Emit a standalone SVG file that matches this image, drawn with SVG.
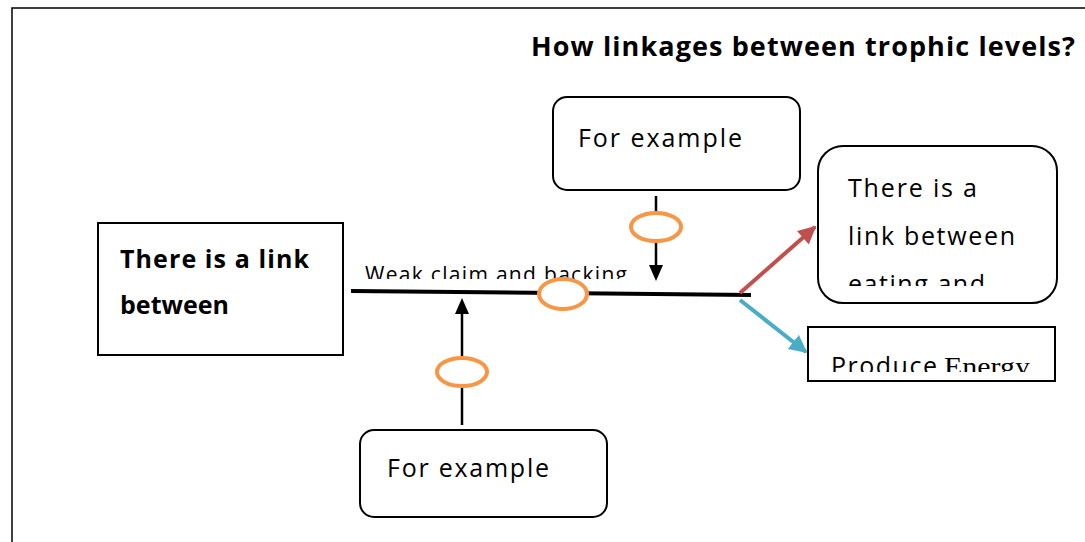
<svg xmlns="http://www.w3.org/2000/svg" width="1085" height="542" viewBox="0 0 1085 542">
<style>
.t{font-family:"Open Sans","Liberation Sans",sans-serif;fill:#000}
.box{fill:#fff;stroke:#000;stroke-width:2}
.ov{fill:#fff;stroke:#f79646;stroke-width:4}
.ln{stroke:#000;fill:none}
</style>
<defs>
<marker id="ar" viewBox="0 0 10 10" refX="9" refY="5" markerWidth="4.5" markerHeight="4.5" orient="auto"><path d="M0,0 L10,5 L0,10 z" fill="#c0504d"/></marker>
<marker id="au" viewBox="0 0 10 10" refX="9" refY="5" markerWidth="4.5" markerHeight="4.5" orient="auto"><path d="M0,0 L10,5 L0,10 z" fill="#4bacc6"/></marker>
<clipPath id="cTop"><rect x="553" y="97" width="247" height="76"/></clipPath>
<clipPath id="cLeft"><rect x="98" y="223" width="245" height="132"/></clipPath>
<clipPath id="cRight"><rect x="818" y="146" width="239" height="140"/></clipPath>
<clipPath id="cWeak"><rect x="350" y="250" width="300" height="29"/></clipPath>
<clipPath id="cProd"><rect x="808" y="327" width="247" height="45"/></clipPath>
</defs>
<rect x="12" y="8" width="1090" height="560" fill="none" stroke="#000" stroke-width="1.5"/>
<text class="t" x="531" y="56" font-size="27" font-weight="bold" textLength="544" lengthAdjust="spacing">How linkages between trophic levels?</text>

<g id="connectors">
<line class="ln" x1="351" y1="291" x2="751" y2="295" stroke-width="4"/>
<line class="ln" x1="656" y1="196" x2="656" y2="268" stroke-width="2.5"/>
<path d="M649,265 L663,265 L656,281 z" fill="#000"/>
<line class="ln" x1="462" y1="425" x2="462" y2="312" stroke-width="2.5"/>
<path d="M455,314 L469,314 L462,298 z" fill="#000"/>
<line x1="740" y1="293" x2="815" y2="227" stroke="#c0504d" stroke-width="4" marker-end="url(#ar)"/>
<line x1="740" y1="300" x2="806" y2="352" stroke="#4bacc6" stroke-width="4" marker-end="url(#au)"/>
</g>

<g id="weak" clip-path="url(#cWeak)">
<text class="t" x="365" y="282" font-size="21" textLength="262" lengthAdjust="spacing">Weak claim and backing</text>
</g>

<g id="ovals">
<ellipse class="ov" cx="563" cy="294" rx="24" ry="15"/>
<ellipse class="ov" cx="656" cy="227" rx="25" ry="14"/>
<ellipse class="ov" cx="462" cy="372" rx="25" ry="14"/>
</g>

<g id="top-box">
<rect class="box" x="553" y="97" width="247" height="93" rx="14"/>
<g clip-path="url(#cTop)"><text class="t" x="578" y="147" font-size="25" textLength="164" lengthAdjust="spacing">For example</text></g>
</g>

<g id="left-box">
<rect class="box" x="98" y="223" width="245" height="132"/>
<g clip-path="url(#cLeft)">
<text class="t" x="120" y="268" font-size="25" font-weight="bold" textLength="189" lengthAdjust="spacing">There is a link</text>
<text class="t" x="120" y="314" font-size="25" font-weight="bold" textLength="109" lengthAdjust="spacing">between</text>
</g>
</g>

<g id="right-box">
<rect class="box" x="818" y="146" width="239" height="157" rx="25"/>
<g clip-path="url(#cRight)">
<text class="t" x="848" y="197" font-size="25" textLength="129" lengthAdjust="spacing">There is a</text>
<text class="t" x="848" y="245" font-size="25" textLength="167" lengthAdjust="spacing">link between</text>
<text class="t" x="848" y="293" font-size="25" textLength="137" lengthAdjust="spacing">eating and</text>
</g>
</g>

<g id="energy-box">
<rect class="box" x="808" y="327" width="247" height="54"/>
<g clip-path="url(#cProd)"><text class="t" x="831" y="375" font-size="25" textLength="106" lengthAdjust="spacing">Produce</text><text x="944" y="375" font-size="25" font-family="Liberation Serif,serif" textLength="86" lengthAdjust="spacingAndGlyphs">Energy</text></g>
</g>

<g id="bottom-box">
<rect class="box" x="360" y="430" width="247" height="87" rx="14"/>
<text class="t" x="387" y="477" font-size="25" textLength="162" lengthAdjust="spacing">For example</text>
</g>
</svg>
